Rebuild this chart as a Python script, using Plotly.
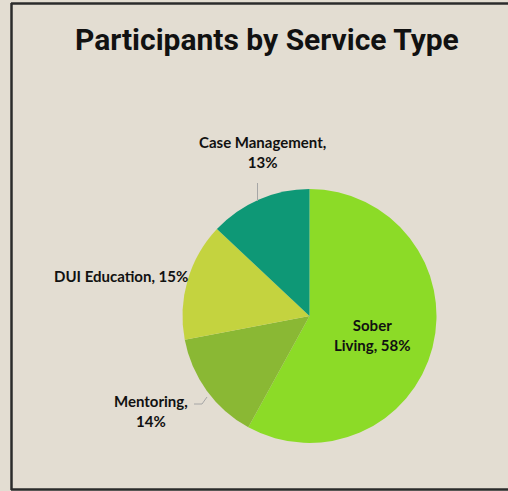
import plotly.graph_objects as go

# Participants by service type (percent of all participants)
services = ["Sober Living", "Mentoring", "DUI Education", "Case Management"]
shares = [58, 14, 15, 13]
slice_colors = ["#8CDB27", "#8AB834", "#C4D33F", "#0E9876"]

W, H = 508, 491
BG = "#E3DDD2"


def px(x):
    return x / W


def py(y):
    return 1 - y / H


fig = go.Figure(
    go.Pie(
        labels=services,
        values=shares,
        sort=False,
        direction="clockwise",
        rotation=0,
        marker=dict(colors=slice_colors, line=dict(width=0)),
        textinfo="none",
        hoverinfo="label+percent",
        domain=dict(x=[px(182), px(437)], y=[py(443), py(189)]),
        showlegend=False,
    )
)

# data label text built from the series
lab = {s: v for s, v in zip(services, shares)}
label_font = dict(family="Lato, 'Open Sans', sans-serif", size=15, color="#111111")

label_specs = [
    ("Sober Living", "Sober<br>Living, {v}%", 372, 335),
    ("Mentoring", "Mentoring,<br>{v}%", 151, 411),
    ("DUI Education", "DUI Education, {v}%", 121, 276),
    ("Case Management", "Case Management,<br>{v}%", 262, 152),
]
annotations = []
for name, fmt, x, y in label_specs:
    annotations.append(
        dict(
            text="<b>" + fmt.format(v=lab[name]) + "</b>",
            x=px(x), y=py(y), xref="paper", yref="paper",
            xanchor="center", yanchor="middle", showarrow=False,
            font=label_font, align="center",
        )
    )

annotations.append(
    dict(
        text="<b>Participants by Service Type</b>",
        x=px(267), y=py(40), xref="paper", yref="paper",
        xanchor="center", yanchor="middle", showarrow=False,
        font=dict(family="Roboto, sans-serif", size=30, color="#111111"),
    )
)

frame = dict(color="#2B2B2B", width=2.5)
leader = dict(color="#A6A6A6", width=1)
shapes = [
    # chart frame: top, left and bottom edges
    dict(type="line", xref="paper", yref="paper",
         x0=px(11), x1=1.0, y0=py(3.5), y1=py(3.5), line=frame, layer="above"),
    dict(type="line", xref="paper", yref="paper",
         x0=px(11.5), x1=px(11.5), y0=py(3), y1=py(490), line=frame, layer="above"),
    dict(type="line", xref="paper", yref="paper",
         x0=px(11), x1=1.0, y0=py(489.5), y1=py(489.5), line=frame, layer="above"),
    # leader lines
    dict(type="path", xref="paper", yref="paper",
         path=f"M {px(257.5)},{py(183)} L {px(257.5)},{py(201)}", line=leader),
    dict(type="path", xref="paper", yref="paper",
         path=f"M {px(194)},{py(404)} L {px(202)},{py(404)} L {px(207)},{py(397)}", line=leader),
]

fig.update_layout(
    width=W, height=H,
    margin=dict(l=0, r=0, t=0, b=0),
    paper_bgcolor=BG, plot_bgcolor=BG,
    annotations=annotations,
    shapes=shapes,
)

fig.write_html("out.html")
